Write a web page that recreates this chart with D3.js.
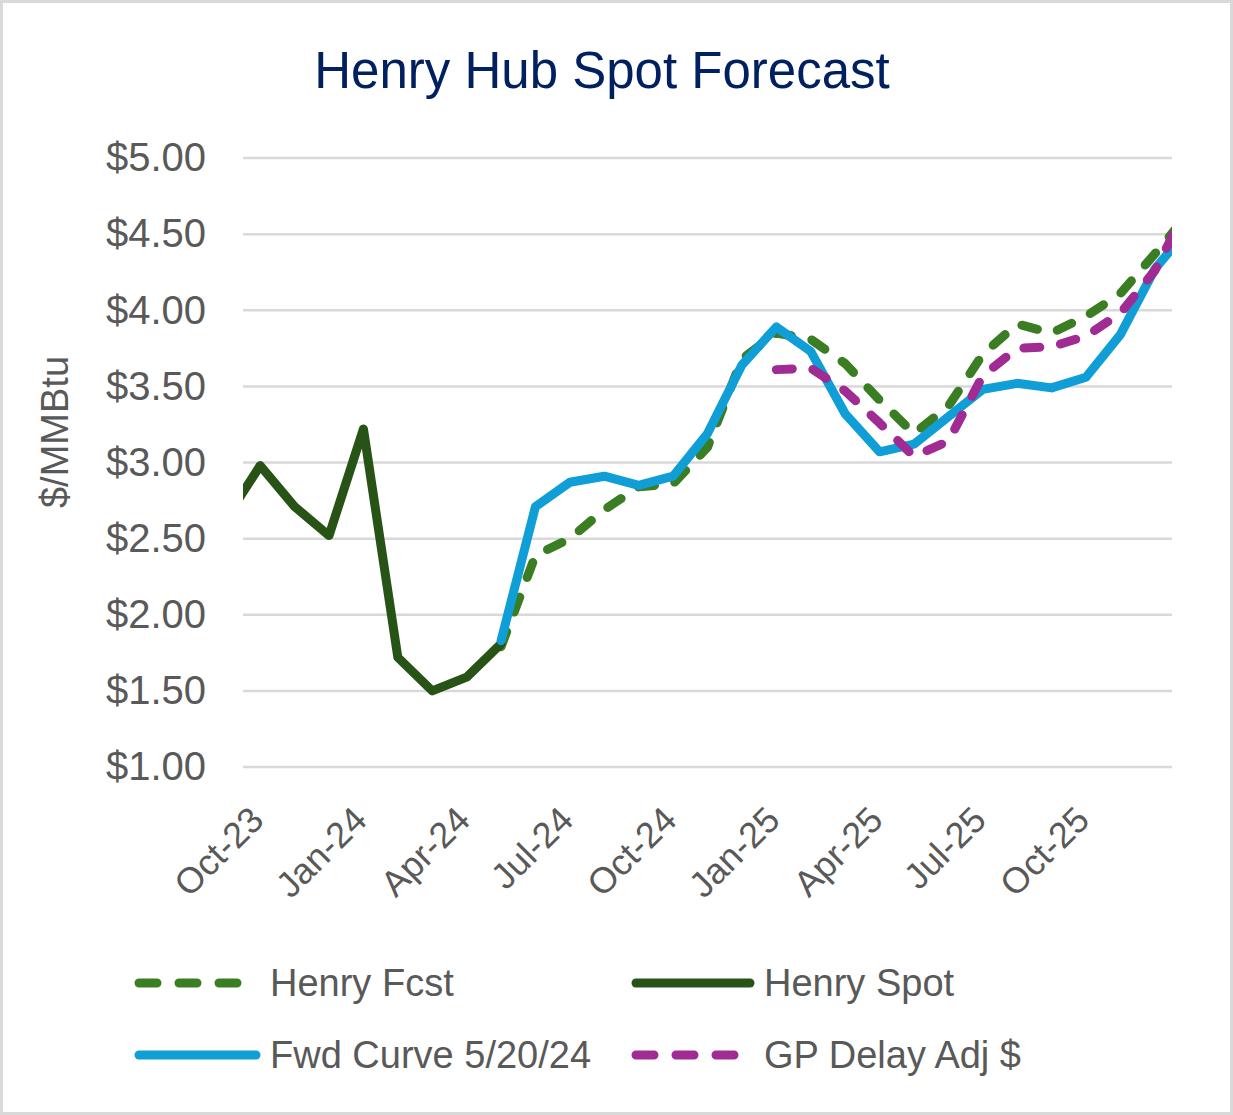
<!DOCTYPE html>
<html>
<head>
<meta charset="utf-8">
<script src="https://cdn.jsdelivr.net/npm/d3@7"></script>
<style>
  body { margin: 0; background: #fff; }
  text { font-family: "Liberation Sans", Arial, sans-serif; }
</style>
</head>
<body>
<svg id="chart" width="1233" height="1115"></svg>
<script>
"use strict";
// months from Sep-23 to Jan-26 (first and last are clipped by the plot edge)
var months = ["Sep-23","Oct-23","Nov-23","Dec-23","Jan-24","Feb-24","Mar-24","Apr-24","May-24","Jun-24",
	"Jul-24","Aug-24","Sep-24","Oct-24","Nov-24","Dec-24","Jan-25","Feb-25","Mar-25","Apr-25",
	"May-25","Jun-25","Jul-25","Aug-25","Sep-25","Oct-25","Nov-25","Dec-25","Jan-26"];
var tickLabels = ["Oct-23","Jan-24","Apr-24","Jul-24","Oct-24","Jan-25","Apr-25","Jul-25","Oct-25"];
var yTicks = [1, 1.5, 2, 2.5, 3, 3.5, 4, 4.5, 5];

var henrySpot = [2.63, 2.98, 2.71, 2.52, 3.22, 1.72, 1.50, 1.59, 1.81];
var henryFcst = [null, null, null, null, null, null, null, null,
	1.79, 2.39, 2.50, 2.69, 2.84, 2.86, 3.10, 3.68, 3.85, 3.81, 3.65, 3.41,
	3.19, 3.37, 3.71, 3.91, 3.85, 3.96, 4.11, 4.37, 4.64];
var fwdCurve = [null, null, null, null, null, null, null, null,
	1.83, 2.71, 2.87, 2.91, 2.85, 2.91, 3.19, 3.64, 3.89, 3.73, 3.32, 3.07,
	3.12, 3.30, 3.48, 3.52, 3.49, 3.56, 3.84, 4.27, 4.54];
var gpDelay = [null, null, null, null, null, null, null, null,
	null, null, null, null, null, null, null, null, 3.61, 3.62, 3.47, 3.26,
	3.04, 3.14, 3.57, 3.75, 3.76, 3.83, 3.98, 4.26, 4.70];

var textGrey = "#595959";
var plotLeft = 243, plotRight = 1172, plotTop = 158, plotBottom = 767;

var svg = d3.select("#chart");

// outer border
svg.append("rect")
	.attr("x", 1.5).attr("y", 1.5)
	.attr("width", 1230).attr("height", 1112)
	.attr("fill", "#fff")
	.attr("stroke", "#d9d9d9")
	.attr("stroke-width", 3);

// title
svg.append("text")
	.attr("x", 602).attr("y", 88)
	.attr("text-anchor", "middle")
	.attr("font-size", 51)
	.attr("fill", "#002060")
	.text("Henry Hub Spot Forecast");

// scales: index 0 = Oct-23, each month centred in its slot
var x = d3.scaleLinear().domain([-0.5, 26.5]).range([plotLeft, plotRight]);
var y = d3.scaleLinear().domain([1, 5]).range([plotBottom, plotTop]);

// gridlines
svg.append("g").selectAll("line")
	.data(yTicks)
	.enter().append("line")
	.attr("x1", plotLeft).attr("x2", plotRight)
	.attr("y1", function(d){ return y(d); })
	.attr("y2", function(d){ return y(d); })
	.attr("stroke", "#d9d9d9")
	.attr("stroke-width", 2.5);

// y axis
var yAxis = svg.append("g")
	.attr("transform", "translate(206,0)")
	.call(d3.axisLeft(y).tickValues(yTicks).tickSize(0).tickPadding(0)
		.tickFormat(function(d){ return "$" + d3.format(".2f")(d); }));
yAxis.select(".domain").remove();
yAxis.selectAll("text")
	.attr("font-family", "Liberation Sans, Arial, sans-serif")
	.attr("font-size", 40)
	.attr("fill", textGrey);

svg.append("text")
	.attr("transform", "translate(68,432) rotate(-90)")
	.attr("text-anchor", "middle")
	.attr("font-size", 38)
	.attr("fill", textGrey)
	.text("$/MMBtu");

// x axis, rotated labels
var xAxis = svg.append("g")
	.attr("transform", "translate(0," + plotBottom + ")")
	.call(d3.axisBottom(x)
		.tickValues(tickLabels.map(function(t){ return months.indexOf(t) - 1; }))
		.tickSize(0)
		.tickFormat(function(d){ return months[d + 1]; }));
xAxis.select(".domain").remove();
xAxis.selectAll("text")
	.attr("font-family", "Liberation Sans, Arial, sans-serif")
	.attr("font-size", 36)
	.attr("fill", textGrey)
	.attr("text-anchor", "end")
	.attr("dy", 0)
	.attr("y", 0)
	.attr("transform", "translate(5,55) rotate(-45)");

// lines
var clip = svg.append("clipPath").attr("id", "plotClip");
clip.append("rect").attr("x", plotLeft).attr("y", 0)
	.attr("width", plotRight - plotLeft).attr("height", 1115);

var series = [
	{name: "Henry Fcst", values: henryFcst, color: "#3b7d23", dash: "16 21"},
	{name: "Henry Spot", values: henrySpot, color: "#275317", dash: null},
	{name: "Fwd Curve 5/20/24", values: fwdCurve, color: "#0f9ed5", dash: null},
	{name: "GP Delay Adj $", values: gpDelay, color: "#a02b93", dash: "16 21"}
];

var line = d3.line()
	.defined(function(d){ return d != null; })
	.x(function(d, i){ return x(i - 1); })
	.y(function(d){ return y(d); });

svg.append("g").attr("clip-path", "url(#plotClip)")
	.selectAll("path")
	.data(series)
	.enter().append("path")
	.attr("d", function(d){ return line(d.values); })
	.attr("fill", "none")
	.attr("stroke", function(d){ return d.color; })
	.attr("stroke-width", 9)
	.attr("stroke-linecap", "round")
	.attr("stroke-linejoin", "round")
	.attr("stroke-dasharray", function(d){ return d.dash; });

// legend
var legendPos = [
	{x1: 139, x2: 245, ty: 983, tx: 270},
	{x1: 636, x2: 750, ty: 983, tx: 764},
	{x1: 139, x2: 256, ty: 1055, tx: 270},
	{x1: 636, x2: 740, ty: 1055, tx: 764}
];
var leg = svg.append("g").selectAll("g")
	.data(series)
	.enter().append("g");
leg.append("line")
	.attr("x1", function(d, i){ return legendPos[i].x1; })
	.attr("x2", function(d, i){ return legendPos[i].x2; })
	.attr("y1", function(d, i){ return legendPos[i].ty; })
	.attr("y2", function(d, i){ return legendPos[i].ty; })
	.attr("stroke", function(d){ return d.color; })
	.attr("stroke-width", 9)
	.attr("stroke-linecap", "round")
	.attr("stroke-dasharray", function(d){ return d.dash ? "18 22" : null; });
leg.append("text")
	.attr("x", function(d, i){ return legendPos[i].tx; })
	.attr("y", function(d, i){ return legendPos[i].ty + 13; })
	.attr("font-size", 38)
	.attr("fill", textGrey)
	.text(function(d){ return d.name; });
</script>
</body>
</html>
